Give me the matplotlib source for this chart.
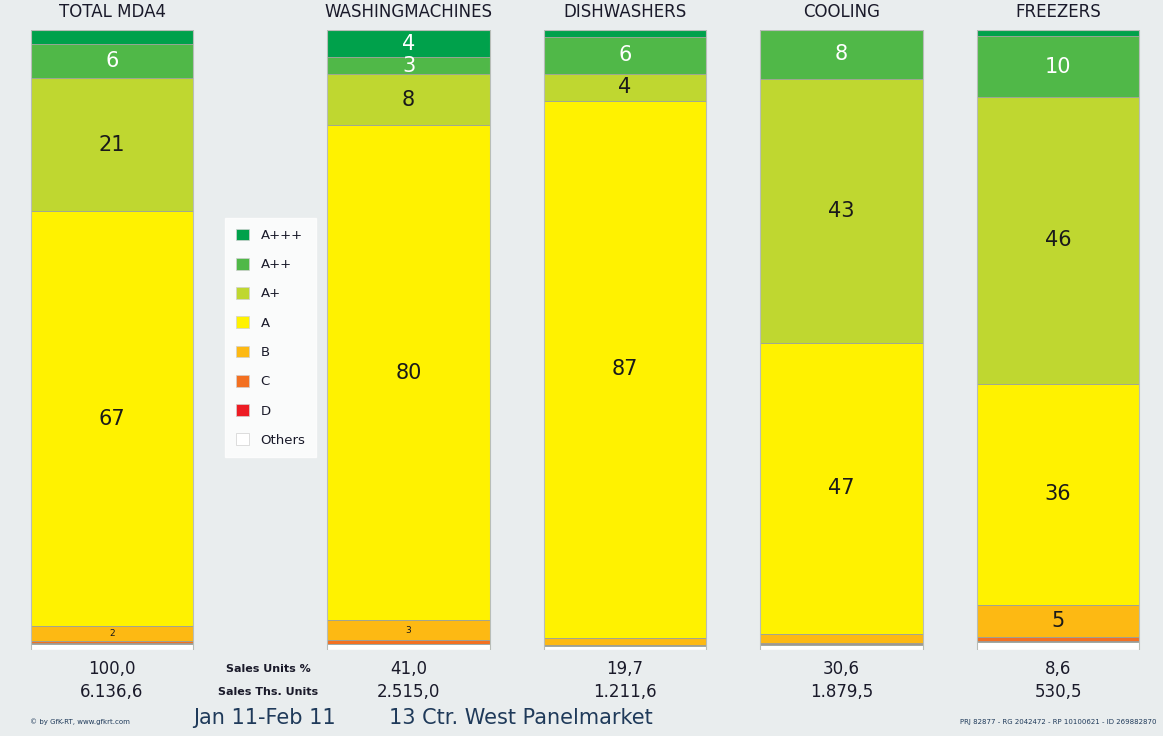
import matplotlib
matplotlib.use("Agg")
import matplotlib.pyplot as plt
from matplotlib.patches import Patch
import numpy as np

# ── Data ──────────────────────────────────────────────────────────────────────

categories = ["TOTAL MDA4", "WASHINGMACHINES", "DISHWASHERS", "COOLING", "FREEZERS"]
grades = ["A+++", "A++", "A+", "A", "B", "C", "D", "Others"]
grade_colors = ["#00A14B", "#50B848", "#BFD730", "#FFF200",
                "#FDB913", "#F37021", "#ED1C24", "#FFFFFF"]

# share of units per energy class (%), per category
share_appp = [2.2, 4.4, 1.1, 0.0, 1.0]
share_app = [5.6, 2.7, 6.0, 7.9, 9.8]
share_ap = [21.4, 8.3, 4.3, 42.6, 46.3]
share_a = [67.0, 79.8, 86.6, 46.9, 35.6]
share_b = [2.3, 3.2, 1.2, 1.4, 5.2]
share_c = [0.4, 0.6, 0.2, 0.3, 0.6]
share_d = [0.1, 0.0, 0.0, 0.1, 0.2]
share_oth = [1.0, 1.0, 0.6, 0.8, 1.3]

sales_pct = ["100,0", "41,0", "19,7", "30,6", "8,6"]
sales_units = ["6.136,6", "2.515,0", "1.211,6", "1.879,5", "530,5"]

# ── Layout ────────────────────────────────────────────────────────────────────

BG = "#E9EDEE"
x_pos = np.array([0, 1.37, 2.37, 3.37, 4.37])
BAR_W = 0.75

fig = plt.figure(figsize=(11.63, 7.36), dpi=100, facecolor=BG)
ax = fig.add_axes([0, 86 / 736, 1, 620 / 736])
ax.set_facecolor(BG)
ax.set_xlim(-112 / 216.5, (1163 - 112) / 216.5)
ax.set_ylim(0, 100)
ax.axis("off")

series = [share_appp, share_app, share_ap, share_a,
          share_b, share_c, share_d, share_oth]

# stack from the top down: A+++ on top, Others at the bottom
top = np.full(len(categories), 100.0)
for gi, (vals, col) in enumerate(zip(series, grade_colors)):
    vals = np.array(vals)
    bottom = top - vals
    ax.bar(x_pos, vals, bottom=bottom, width=BAR_W, color=col,
           edgecolor="#9aa39a", linewidth=0.6)
    for xi, v, b in zip(x_pos, vals, bottom):
        # tiny slices stay unlabelled
        if v < (2.5 if gi < 4 else 2.0):
            continue
        txt_col = "white" if gi < 2 else "#1a1a1a"
        size = 6.5 if (gi >= 4 and v < 4) else 15
        ax.text(xi, b + v / 2, f"{v:.0f}", ha="center", va="center",
                color=txt_col, fontsize=size)
    top = bottom

# thin frame round each bar
for xi in x_pos:
    ax.bar(xi, 100, width=BAR_W, color="none", edgecolor="#b8bdb8",
           linewidth=0.8)

# ── Text ──────────────────────────────────────────────────────────────────────

for xi, name, p, u in zip(x_pos, categories, sales_pct, sales_units):
    ax.text(xi, 102.9, name, ha="center", va="center", fontsize=12,
            color="#1a1a2a", clip_on=False)
    ax.text(xi, -3.1, p, ha="center", va="center", fontsize=12,
            color="#1a1a2a", clip_on=False)
    ax.text(xi, -6.8, u, ha="center", va="center", fontsize=12,
            color="#1a1a2a", clip_on=False)

lbl_x = (268 - 112) / 216.5
ax.text(lbl_x, -3.1, "Sales Units %", ha="center", va="center", fontsize=8,
        fontweight="bold", color="#1a1a2a", clip_on=False)
ax.text(lbl_x, -6.8, "Sales Ths. Units", ha="center", va="center", fontsize=8,
        fontweight="bold", color="#1a1a2a", clip_on=False)

ax.text((264 - 112) / 216.5, -11.0, "Jan 11-Feb 11", ha="center", va="center",
        fontsize=15, color="#1f3a5a", clip_on=False)
ax.text((521 - 112) / 216.5, -11.0, "13 Ctr. West Panelmarket", ha="center",
        va="center", fontsize=15, color="#1f3a5a", clip_on=False)
ax.text((30 - 112) / 216.5, -11.6, "© by GfK-RT, www.gfkrt.com", ha="left",
        va="center", fontsize=5, color="#1f3a5a", clip_on=False)
ax.text((1157 - 112) / 216.5, -11.6,
        "PRJ 82877 - RG 2042472 - RP 10100621 - ID 269882870",
        ha="right", va="center", fontsize=5, color="#1f3a5a", clip_on=False)

# ── Legend ────────────────────────────────────────────────────────────────────

handles = [Patch(facecolor=c, edgecolor="#d0d0d0", linewidth=0.5)
           for c in grade_colors]
leg = fig.legend(handles, grades, loc="upper left",
                 bbox_to_anchor=(225 / 1163, 1 - 218 / 736),
                 frameon=True, fancybox=False, fontsize=9.5,
                 handlelength=1.0, handleheight=1.0, handletextpad=0.9,
                 labelspacing=1.2, borderpad=0.8, borderaxespad=0)
leg.get_frame().set_facecolor("white")
leg.get_frame().set_edgecolor("white")
for t in leg.get_texts():
    t.set_color("#1a1a2a")

fig.savefig("out.png", dpi=100, facecolor=BG)
